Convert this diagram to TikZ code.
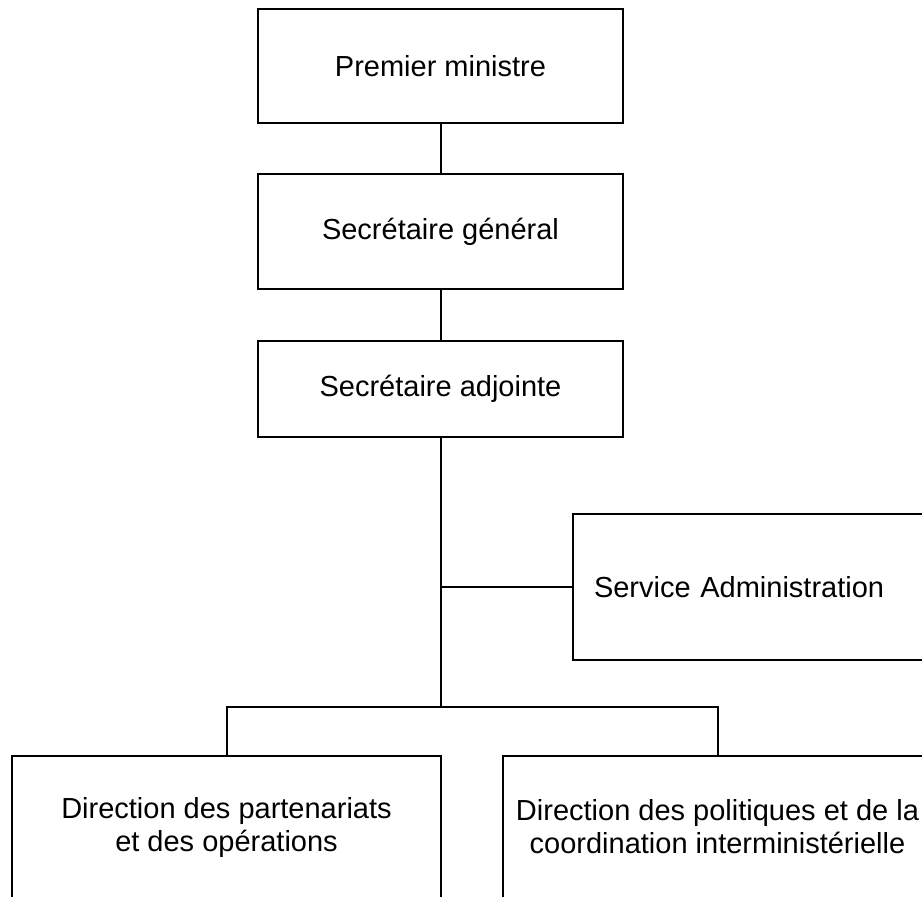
\documentclass[tikz,border=0pt]{standalone}
\usepackage{fontspec}
\setmainfont{Liberation Sans}
\begin{document}
\begin{tikzpicture}[x=1pt,y=-1pt,
  box/.style={draw, line width=2pt, rectangle, inner sep=0pt,
              font=\fontsize{29}{33}\selectfont, align=center},
  conn/.style={line width=2pt}]
\useasboundingbox (0,0) rectangle (922,897);
\fill[white] (0,0) rectangle (922,897);
\clip (0,0) rectangle (922,897);
\node[box, minimum width=365pt, minimum height=114pt] (pm) at (440.5,66) {Premier ministre};
\node[box, minimum width=365pt, minimum height=115pt] (sg) at (440.5,231.5) {Secrétaire général};
\node[box, minimum width=365pt, minimum height=96pt] (s3) at (440.5,389) {Secrétaire adjointe};
\node[box, anchor=north west, minimum width=380pt, minimum height=146pt,
      text width=338pt, inner xsep=21pt, align=left] (sa) at (572,513) {Service Administration};
\node[box, anchor=north west, minimum width=429pt, minimum height=142pt] (dpo) at (11,755)
  {Direction des partenariats\\et des opérations};
\node[box, anchor=north west, minimum width=429pt, minimum height=142pt] (dpc) at (502,755)
  {Direction des politiques et de la\\coordination interministérielle};
\coordinate (hub) at (440.5,707);
\draw[conn] (pm.south) -- (sg.north);
\draw[conn] (sg.south) -- (s3.north);
\draw[conn] (s3.south) -- (hub);
\draw[conn] (sa.west) -- (sa.west -| s3.south);
\draw[conn] (dpo.north) |- (hub) -| (dpc.north);
\end{tikzpicture}
\end{document}
